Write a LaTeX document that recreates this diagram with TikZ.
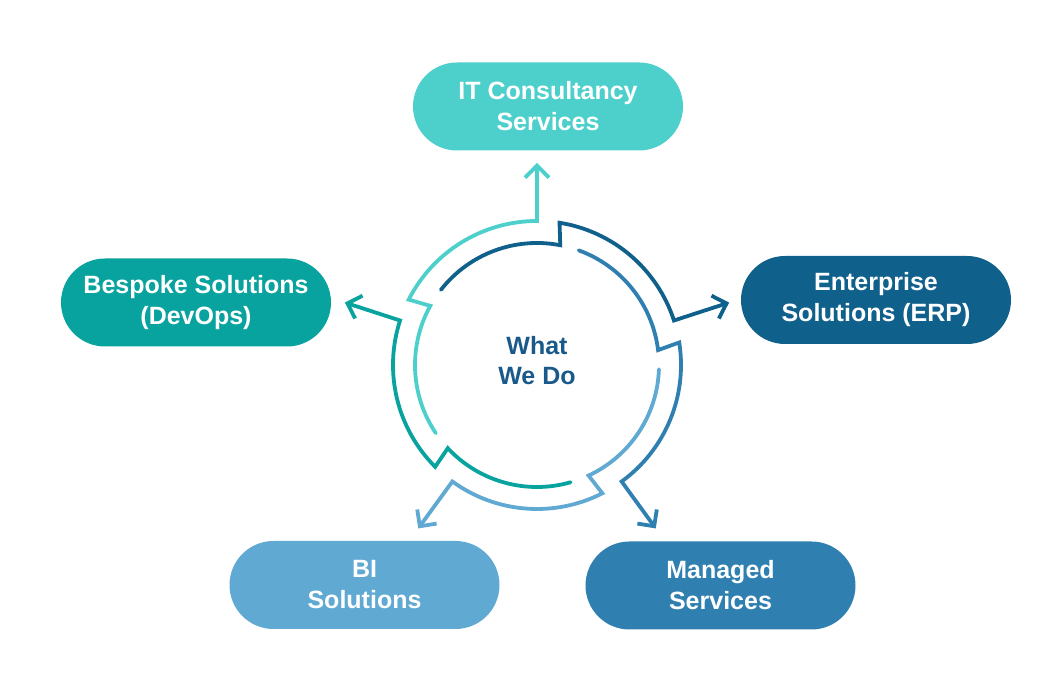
\documentclass[tikz,border=0pt]{standalone}
\usepackage{fontspec}
\setmainfont{Liberation Sans}
\usetikzlibrary{arrows.meta, calc}
\definecolor{itc}{RGB}{77,208,204}
\definecolor{erp}{RGB}{16,96,140}
\definecolor{mgd}{RGB}{47,128,176}
\definecolor{bis}{RGB}{96,169,210}
\definecolor{bsp}{RGB}{8,163,158}
\definecolor{wwd}{RGB}{26,90,138}
\tikzset{%
    box/.style={rounded corners=44pt, minimum width=270pt, minimum height=88pt, inner sep=0pt, align=center, text=white, font=\fontsize{25}{31}\selectfont\bfseries},
    hub/.style={align=center, text=wwd, font=\fontsize{25}{30}\selectfont\bfseries},
    seg/.style={line width=3.8pt, line cap=round, -{Straight Barb[length=12pt 0, width=24pt 0]}},
}
\begin{document}
\begin{tikzpicture}[x=1pt,y=1pt]
    \useasboundingbox (0,0) rectangle (1057,684);
    \coordinate (C) at (537,319);
    \node [box,fill=itc] (it) at (548,577.5) {IT Consultancy\\Services};
    \node [box,fill=erp] (erp) at (876,384) {Enterprise\\Solutions (ERP)};
    \node [box,fill=mgd] (mgd) at (720.5,98.5) {Managed\\Services};
    \node [box,fill=bis] (bi) at (364.5,99) {BI\\Solutions};
    \node [box,fill=bsp] (bsp) at (196,381.5) {Bespoke Solutions\\(DevOps)};
    \node [hub] (wwd) at (537,323) {What\\We Do};
    % one bent arc per service, ending in its arrow
    \foreach \a/\c/\n in {90/itc/it, 18/erp/erp, -54/mgd/mgd, -126/bis/bi, 162/bsp/bsp}
        \draw [seg,\c] ($(C)+(\a+124:122)$) arc[start angle=\a+124, end angle=\a+61, radius=122]
            -- ($(C)+(\a+63:144)$) arc[start angle=\a+63, end angle=\a, radius=144]
            -- ($(C)+(\a:202)$) coordinate (tip\n);
\end{tikzpicture}
\end{document}
